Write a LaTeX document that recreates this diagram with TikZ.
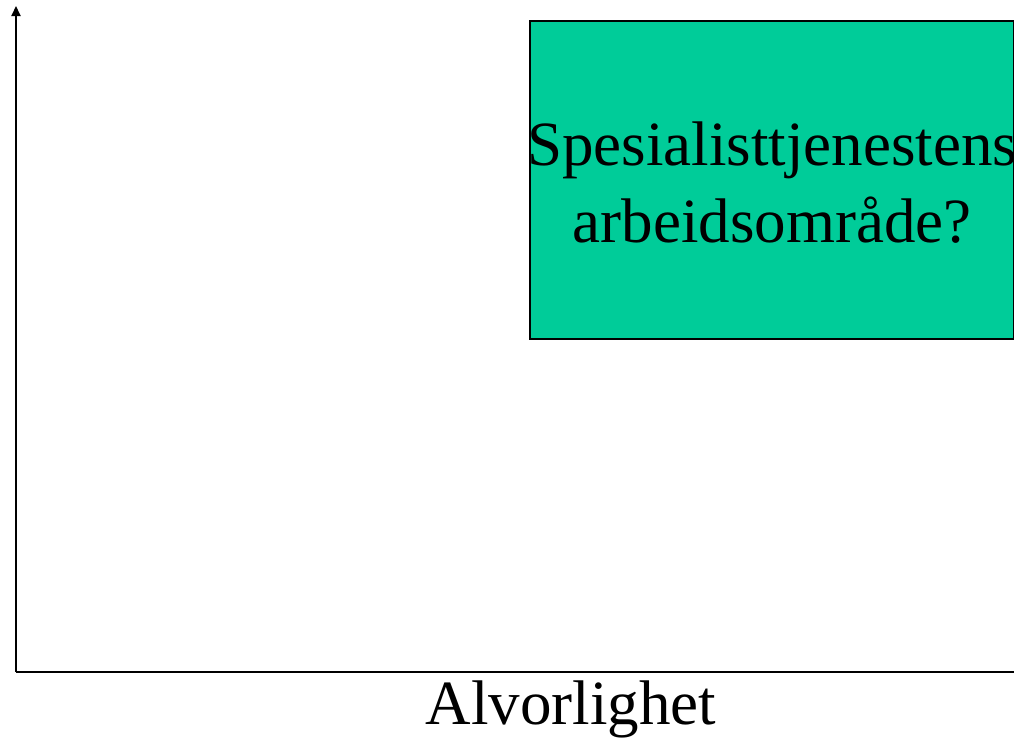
\documentclass[tikz,border=0pt]{standalone}
\usepackage{fontspec}
\setmainfont{Liberation Serif}
\usetikzlibrary{arrows.meta}
\definecolor{feltgronn}{HTML}{00CC99}
\tikzset{
  akse/.style={line width=2pt},
  feltboks/.style={draw=black, line width=2pt, fill=feltgronn, minimum width=484pt, minimum height=318pt, inner sep=0pt},
  storetekst/.style={font=\fontsize{63}{77}\selectfont, align=center, inner sep=0pt}
}
\begin{document}
\begin{tikzpicture}[x=1pt,y=-1pt]
    \useasboundingbox (0,0) rectangle (1014,747);
    % akser
    \coordinate (origo) at (16,672);
    \coordinate (ytopp) at (16,6);
    \coordinate (xslutt) at (1014,672);
    \draw[akse,-{Triangle[length=10pt,width=9pt]}] (origo) -- (ytopp);
    \draw[akse] (origo) -- (xslutt);
    % omraadet
    \node[feltboks] (omraade) at (772,180) {};
    \node[storetekst] (omraadetekst) at ([yshift=-3pt]omraade.center) {Spesialisttjenestens\\arbeidsområde?};
    \node[storetekst, anchor=base] (xnavn) at (571,724) {Alvorlighet};
\end{tikzpicture}
\end{document}
